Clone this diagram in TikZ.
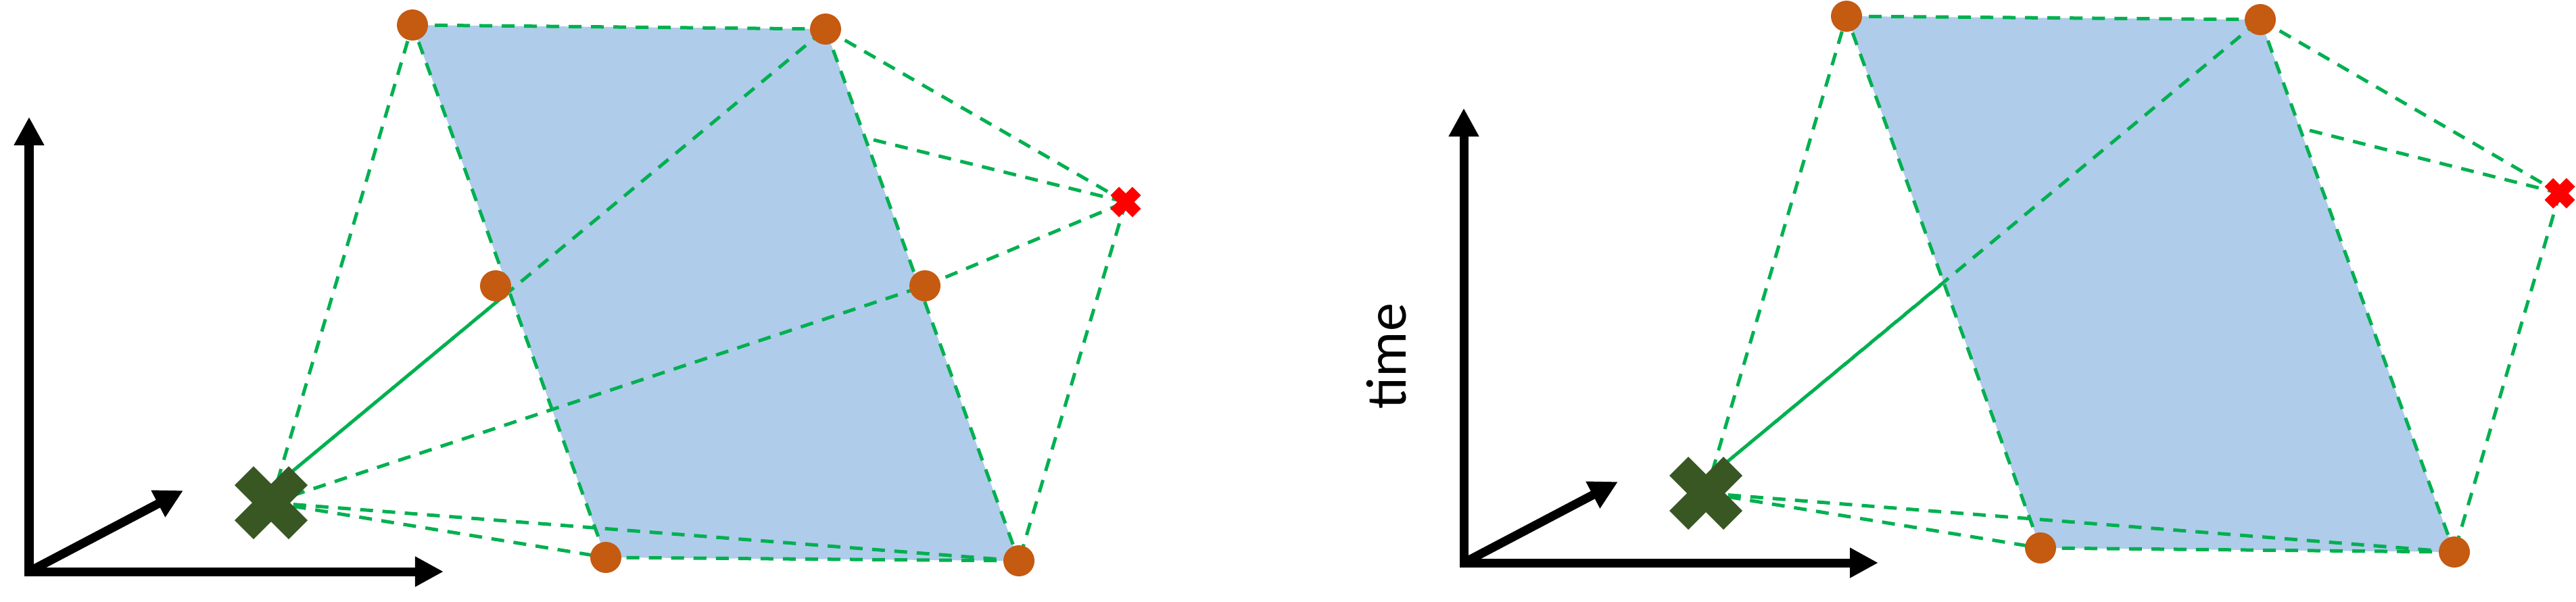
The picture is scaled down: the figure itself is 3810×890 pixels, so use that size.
\documentclass[tikz,border=0pt]{standalone}
\usepackage{fontspec}
\setmainfont{Carlito}
\usetikzlibrary{arrows.meta,calc}

\definecolor{sheetblue}{RGB}{175,204,234}
\definecolor{eventorange}{RGB}{197,90,17}
\definecolor{linkgreen}{RGB}{0,176,80}
\definecolor{obsgreen}{RGB}{56,87,35}

\pgfdeclarelayer{back}
\pgfsetlayers{back,main}

\tikzset{
  event/.style={circle, fill=eventorange, inner sep=0pt, minimum size=0.46cm},
  link/.style={draw=linkgreen, line width=0.05cm, dash pattern=on 0.19cm off 0.14cm},
  axis/.style={line width=0.13cm},
  % a filled x mark: #1 = half size, #2 = corner offset, #3 = colour
  pics/xmark/.style n args={3}{code={
    \fill[#3] (-#2,-#1) -- (0,{#2-#1}) -- (#2,-#1) -- (#1,-#2) -- ({#1-#2},0) -- (#1,#2)
      -- (#2,#1) -- (0,{#1-#2}) -- (-#2,#1) -- (-#1,#2) -- ({#2-#1},0) -- (-#1,-#2) -- cycle;
  }},
}

\begin{document}
\begin{tikzpicture}[x=0.01cm, y=-0.01cm, >={Triangle[length=0.42cm,width=0.42cm]}]

    % Fix the page to the size of the whole figure (pixel units)
    \useasboundingbox (0,0) rectangle (3810,890);

    % ---------------- left panel ----------------
    % Axes origin and arrow tips
    \coordinate (lo) at (43,846);
    \coordinate (ly) at (43,173);
    \coordinate (lx) at (656,846);
    \coordinate (lz) at (271,726);

    % Events on the sheet, the observer and the source
    \node[event] (ltl) at (610,37) {};
    \node[event] (ltr) at (1221,43) {};
    \node[event] (lbl) at (896,825) {};
    \node[event] (lbr) at (1507,830) {};
    \node[event] (lml) at (733,423) {};
    \node[event] (lmr) at (1368,423) {};
    \coordinate (lobs) at (401,744);
    \coordinate (lsrc) at (1665,299);
    \coordinate (ledge) at (1292,207);
    % upper right arm of the observer mark
    \coordinate (larm) at ($(lobs)+(14,-32)$);
    % where the line to the top right event enters the sheet
    \coordinate (lcross) at (intersection of larm--ltr.center and ltl.center--lbl.center);
    \pic at (lobs) {xmark={54}{26}{obsgreen}};
    \pic at (lsrc) {xmark={22.5}{9.8}{red}};

    \begin{pgfonlayer}{back}
      % The sheet
      \fill[sheetblue] (ltl.center) -- (ltr.center) -- (lbr.center) -- (lbl.center) -- cycle;
      \draw[link] (ltl.center) -- (ltr.center);
      \draw[link] (ltr.center) -- (lbr.center);
      \draw[link] (lbr.center) -- (lbl.center);
      \draw[link] (lbl.center) -- (ltl.center);
      % Lines towards the observer
      \draw[link] (lobs) -- (ltl.center);
      \draw[link] (larm) -- (ltr.center);
      \draw[link, dash phase=0.165cm] (larm) -- (lcross);
      \draw[link] (lobs) -- (lmr.center);
      \draw[link] (lobs) -- (lbl.center);
      \draw[link] (lobs) -- (lbr.center);
      % Lines towards the source
      \draw[link] (ltr.center) -- (lsrc);
      \draw[link] (ledge) -- (lsrc);
      \draw[link] (lmr.center) -- (lsrc);
      \draw[link] (lsrc) -- (lbr.center);
    \end{pgfonlayer}

    \draw[axis, <->] (ly) -- (lo) -- (lx);
    \draw[axis, ->] (lo) -- (lz);

    % ---------------- right panel ----------------
    \coordinate (ro) at (2165,833);
    \coordinate (ry) at (2165,160);
    \coordinate (rx) at (2778,833);
    \coordinate (rz) at (2393,713);

    \node[event] (rtl) at (2731,24) {};
    \node[event] (rtr) at (3343,29) {};
    \node[event] (rbl) at (3018,811) {};
    \node[event] (rbr) at (3630,817) {};
    \coordinate (robs) at (2523,730);
    \coordinate (rsrc) at (3786,286);
    \coordinate (redge) at (3416,193);
    \coordinate (rarm) at ($(robs)+(14,-32)$);
    \coordinate (rcross) at (intersection of rarm--rtr.center and rtl.center--rbl.center);
    \pic at (robs) {xmark={54}{26}{obsgreen}};
    \pic at (rsrc) {xmark={22.5}{9.8}{red}};

    \node[rotate=90, font=\fontsize{24}{28}\selectfont] (rtime) at (2051,527) {time};

    \begin{pgfonlayer}{back}
      \fill[sheetblue] (rtl.center) -- (rtr.center) -- (rbr.center) -- (rbl.center) -- cycle;
      \draw[link] (rtl.center) -- (rtr.center);
      \draw[link] (rtr.center) -- (rbr.center);
      \draw[link] (rbr.center) -- (rbl.center);
      \draw[link] (rbl.center) -- (rtl.center);
      \draw[link] (robs) -- (rtl.center);
      \draw[link] (rarm) -- (rtr.center);
      \draw[link, dash phase=0.165cm] (rarm) -- (rcross);
      \draw[link] (robs) -- (rbl.center);
      \draw[link] (robs) -- (rbr.center);
      \draw[link] (rtr.center) -- (rsrc);
      \draw[link] (redge) -- (rsrc);
      \draw[link] (rsrc) -- (rbr.center);
    \end{pgfonlayer}

    \draw[axis, <->] (ry) -- (ro) -- (rx);
    \draw[axis, ->] (ro) -- (rz);

\end{tikzpicture}
\end{document}
